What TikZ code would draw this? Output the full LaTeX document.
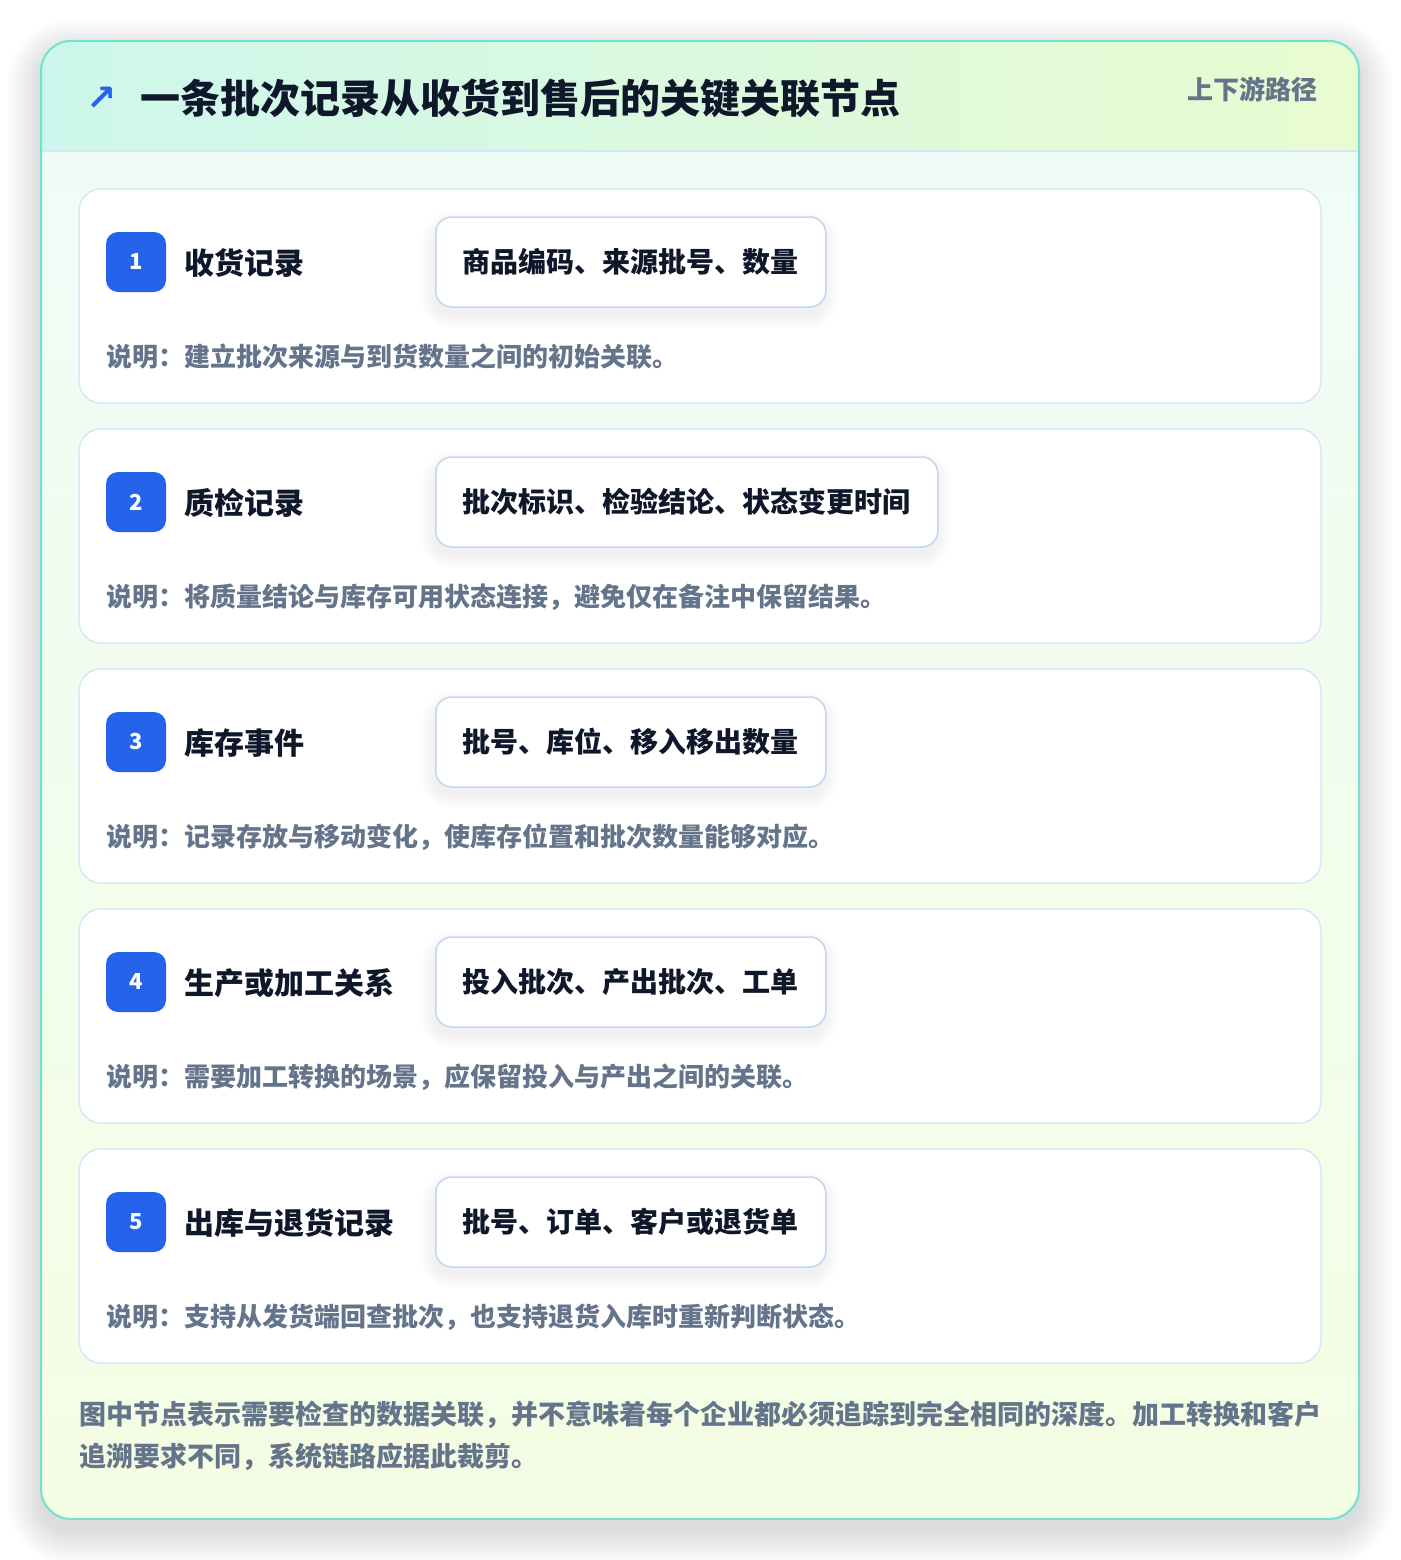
\documentclass[tikz,border=0pt]{standalone}
\usepackage{fontspec}
\setmainfont{Noto Sans CJK SC}
\newfontfamily\symf{DejaVu Sans}
\definecolor{bordercol}{HTML}{6EE3CF}
\definecolor{hdrl}{HTML}{CDF7EC}
\definecolor{hdrr}{HTML}{E9FBD0}
\definecolor{bodytop}{HTML}{EFFCF8}
\definecolor{bodybot}{HTML}{F4FDE3}
\definecolor{sepline}{HTML}{D6E6F5}
\definecolor{cardline}{HTML}{DAE7F7}
\definecolor{chipline}{HTML}{BFD6F4}
\definecolor{badgeblue}{HTML}{2563EB}
\definecolor{titlec}{HTML}{0F172A}
\definecolor{descc}{HTML}{64748B}
\definecolor{shadowc}{HTML}{1E293B}
\definecolor{chipshadow}{HTML}{3B5B8A}
\tikzset{
  card/.style={draw=cardline, line width=1.5pt, fill=white, rounded corners=22pt},
  badge/.style={fill=badgeblue, rounded corners=12pt, minimum width=60pt, minimum height=60pt,
    text=white, font=\bfseries\fontsize{22}{22}\selectfont, inner sep=0pt},
  ttl/.style={anchor=west, text=titlec, font=\bfseries\fontsize{30}{30}\selectfont, inner sep=0pt},
  chip/.style={draw=chipline, line width=1.5pt, fill=white, rounded corners=16pt,
    minimum height=90pt, minimum width=390pt, inner xsep=27pt, text=titlec,
    font=\bfseries\fontsize{28}{28}\selectfont, anchor=west},
  desc/.style={anchor=west, text=descc, font=\bfseries\fontsize{26}{26}\selectfont, inner sep=0pt},
  foot/.style={anchor=west, text=descc, font=\bfseries\fontsize{27}{27}\selectfont, inner sep=0pt},
}
\begin{document}
\begin{tikzpicture}[x=1pt,y=-1pt]
\useasboundingbox (0,0) rectangle (1400,1560);
\fill[white] (0,0) rectangle (1400,1560);
% soft outer shadow
\foreach \k in {1,...,34}{
  \fill[shadowc, opacity=0.0024, rounded corners={30pt+\k pt}]
    (41-\k,41-\k+12) rectangle (1359+\k,1519+\k+12);
}
% outer card
\fill[rounded corners=30pt, top color=bodytop, bottom color=bodybot]
  (41,41) rectangle (1359,1519);
\begin{scope}
  \clip[rounded corners=30pt] (41,41) rectangle (1359,1519);
  \shade[left color=hdrl, right color=hdrr] (41,41) rectangle (1359,151);
\end{scope}
\draw[sepline, line width=1.5pt] (42,151) -- (1358,151);
\draw[bordercol, line width=2pt, rounded corners=30pt] (41,41) rectangle (1359,1519);
% header
\node[text=badgeblue, font=\symf\bfseries\fontsize{36}{36}\selectfont, inner sep=0pt] (icon) at (102,99) {↗};
\node[anchor=west, text=titlec, font=\bfseries\fontsize{40}{40}\selectfont, inner sep=0pt] (title) at (140,98) {一条批次记录从收货到售后的关键关联节点};
\node[anchor=east, text=descc, font=\bfseries\fontsize{26}{26}\selectfont, inner sep=0pt] (tag) at (1318,89) {上下游路径};
% cards
\foreach \i/\t/\c/\d/\w in {
  1/收货记录/商品编码、来源批号、数量/说明：建立批次来源与到货数量之间的初始关联。/390,
  2/质检记录/批次标识、检验结论、状态变更时间/说明：将质量结论与库存可用状态连接，避免仅在备注中保留结果。/502,
  3/库存事件/批号、库位、移入移出数量/说明：记录存放与移动变化，使库存位置和批次数量能够对应。/390,
  4/生产或加工关系/投入批次、产出批次、工单/说明：需要加工转换的场景，应保留投入与产出之间的关联。/390,
  5/出库与退货记录/批号、订单、客户或退货单/说明：支持从发货端回查批次，也支持退货入库时重新判断状态。/390}{
  \pgfmathsetmacro{\top}{189+240*(\i-1)}
  \path[card] (79,\top) rectangle (1321,\top+214);
  % chip shadow
  \foreach \k in {1,...,14}{
    \fill[chipshadow, opacity=0.004, rounded corners={16pt+\k pt}]
      (435-\k,\top+28-\k+8) rectangle (435+\w+\k,\top+118+\k+8);
  }
  \node[badge] (badge\i) at (136,\top+73) {\i};
  \node[ttl] (ttl\i) at (184,\top+74) {\t};
  \node[chip] (chip\i) at (435,\top+73) {\c};
  \node[desc] (desc\i) at (106,\top+168) {\d};
}
% footer
\node[foot] (foot1) at (79,1415) {图中节点表示需要检查的数据关联，并不意味着每个企业都必须追踪到完全相同的深度。加工转换和客户};
\node[foot] (foot2) at (79,1457) {追溯要求不同，系统链路应据此裁剪。};
\end{tikzpicture}
\end{document}
